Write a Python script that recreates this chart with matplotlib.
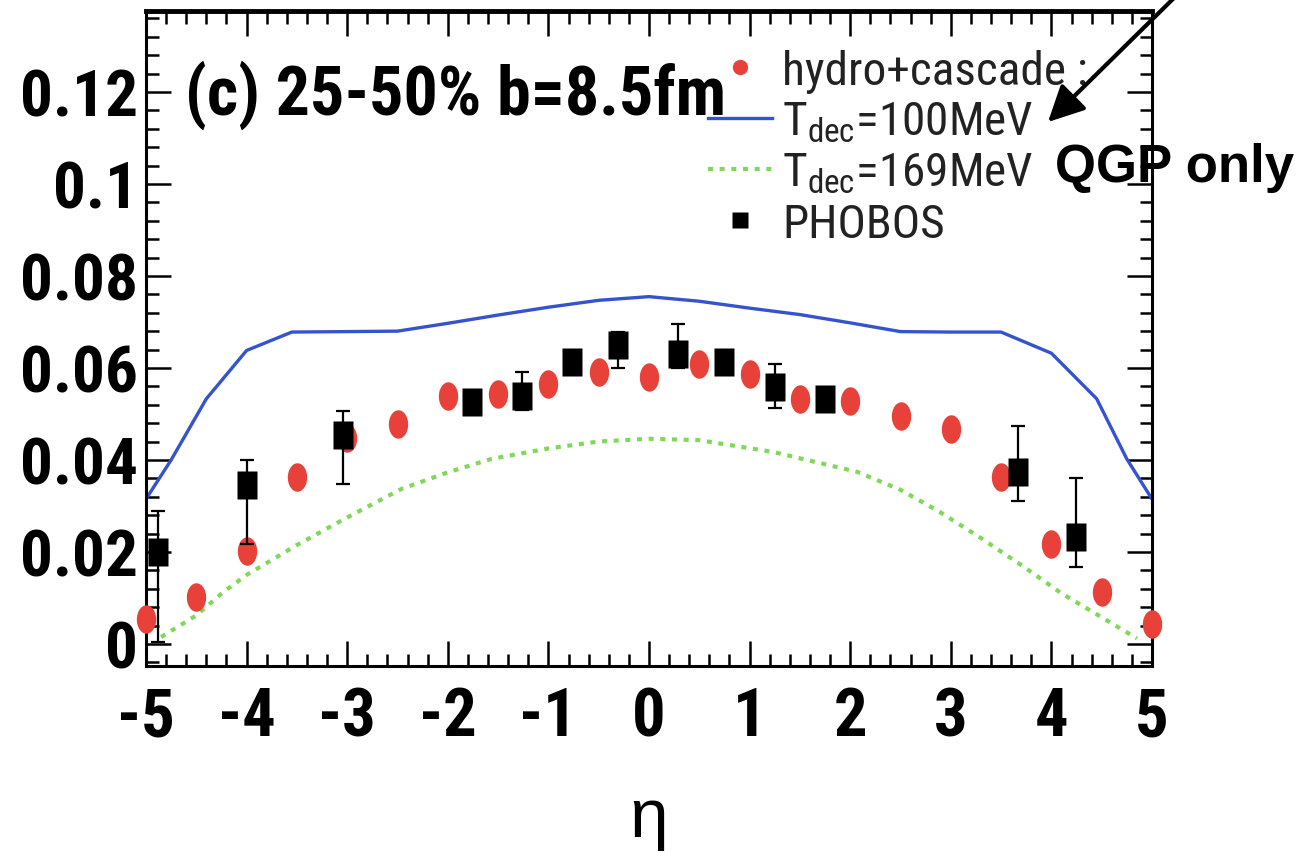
import numpy as np
import matplotlib
matplotlib.use('Agg')
import matplotlib.pyplot as plt
from matplotlib.lines import Line2D
from matplotlib.ticker import MultipleLocator

plt.rcParams['font.family'] = ['Liberation Sans Narrow', 'Roboto Condensed', 'DejaVu Sans']
plt.rcParams['axes.unicode_minus'] = False

# hydro+cascade, T_dec = 100 MeV (solid line)
eta_100 = [-5.0, -4.75, -4.4, -4.0, -3.55, -3.0, -2.5, -2.0, -1.5, -1.0, -0.5, 0.0,
           0.5, 1.0, 1.5, 2.0, 2.5, 3.0, 3.5, 4.0, 4.45, 4.75, 5.0]
v2_100 = [0.0315, 0.040, 0.0533, 0.0638, 0.0678, 0.0679, 0.0680, 0.0697, 0.0715, 0.0732, 0.0747, 0.0755,
          0.0745, 0.0730, 0.0716, 0.0698, 0.0679, 0.0678, 0.0678, 0.0632, 0.0533, 0.0402, 0.0315]

# QGP only, T_dec = 169 MeV (dotted line)
eta_169 = [-4.85, -4.5, -4.23, -4.0, -3.5, -3.0, -2.46, -2.0, -1.57, -1.0, -0.5, 0.0,
           0.5, 1.24, 2.07, 2.5, 2.89, 3.3, 3.71, 4.1, 4.53, 4.85]
v2_169 = [0.0015, 0.0062, 0.0113, 0.0150, 0.0215, 0.0275, 0.0337, 0.0373, 0.0402, 0.0425, 0.0440, 0.0446,
          0.0443, 0.0417, 0.0374, 0.0335, 0.0287, 0.0230, 0.0170, 0.0110, 0.0054, 0.0012]

# hydro+cascade points
eta_hc = np.arange(-5.0, 5.01, 0.5)
v2_hc = [0.0054, 0.0102, 0.0202, 0.0363, 0.0448, 0.0478, 0.0539, 0.0543, 0.0565, 0.0591, 0.0580,
         0.0609, 0.0587, 0.0533, 0.0528, 0.0496, 0.0467, 0.0363, 0.0217, 0.0113, 0.0043]

# PHOBOS data with asymmetric errors
eta_ph = [-4.88, -4.0, -3.04, -1.76, -1.26, -0.77, -0.31, 0.29, 0.75, 1.25, 1.75, 3.67, 4.24]
v2_ph = [0.0200, 0.0345, 0.0455, 0.0526, 0.0539, 0.0613, 0.0649, 0.0630, 0.0613, 0.0559, 0.0533, 0.0374, 0.0233]
err_lo = [0.0195, 0.0128, 0.0107, 0.002, 0.003, 0.002, 0.0049, 0.003, 0.002, 0.0046, 0.002, 0.0063, 0.0066]
err_hi = [0.0090, 0.0055, 0.0052, 0.002, 0.0052, 0.002, 0.003, 0.0066, 0.002, 0.0050, 0.002, 0.0100, 0.0128]

y_ticks = [0, 0.02, 0.04, 0.06, 0.08, 0.1, 0.12]
y_labels = ['0', '0.02', '0.04', '0.06', '0.08', '0.1', '0.12']
x_ticks = [-5, -4, -3, -2, -1, 0, 1, 2, 3, 4, 5]
x_labels = [str(t) for t in x_ticks]

c_blue = '#3553cc'
c_green = '#80d858'
c_red = '#e8413a'

# tall markers: ellipse and rectangle
t = np.linspace(0, 2 * np.pi, 48)
ell = list(zip(0.68 * np.cos(t), np.sin(t)))
rect = [(-0.68, -1), (0.68, -1), (0.68, 1), (-0.68, 1), (-0.68, -1)]

fig = plt.figure(figsize=(12.99, 8.54), dpi=100)
ax = fig.add_axes([146 / 1299, 187 / 854, 1006 / 1299, 655 / 854])

ax.plot(eta_100, v2_100, color=c_blue, lw=2.4, zorder=2)
ax.plot(eta_169, v2_169, color=c_green, lw=3, ls=(0, (1.2, 1.6)), zorder=2)
ax.plot(eta_hc, v2_hc, ls='none', marker=ell, ms=20.5, color=c_red, mec='none',
        clip_on=False, zorder=3)
ax.errorbar(eta_ph, v2_ph, yerr=[err_lo, err_hi], fmt='none', ecolor='k',
            elinewidth=1.6, capsize=5, capthick=1.6, zorder=4)
ax.plot(eta_ph, v2_ph, ls='none', marker=rect, ms=20.5, color='k', mec='none', zorder=5)

ax.set_xlim(-5, 5)
ax.set_ylim(-0.0048, 0.1376)
ax.set_xticks(x_ticks)
ax.set_xticklabels(x_labels, fontsize=48, fontweight='bold')
ax.set_yticks(y_ticks)
ax.set_yticklabels(y_labels, fontsize=47, fontweight='bold')
ax.xaxis.set_minor_locator(MultipleLocator(0.2))
ax.yaxis.set_minor_locator(MultipleLocator(0.004))
ax.tick_params(which='both', direction='in', top=True, right=True, width=1.8)
ax.tick_params(which='major', length=18)
ax.tick_params(which='minor', length=9)
ax.tick_params(axis='x', which='both', top=True, labeltop=False)
ax.tick_params(axis='x', pad=14)
ax.tick_params(axis='y', pad=6)
for s in ax.spines.values():
    s.set_linewidth(2.2)
ax.spines['top'].set_linewidth(3.5)

ax.set_xlabel('η', fontsize=50, family=['Liberation Sans', 'DejaVu Sans'])
ax.xaxis.set_label_coords(0.5, -0.232)
ax.xaxis.label.set_va('center')

ax.text(0.0388, 0.843, '(c) 25-50% b=8.5fm', transform=ax.transAxes,
        fontsize=49, fontweight='bold', va='baseline', ha='left')

handles = [
    Line2D([], [], ls='none', marker='o', ms=11, color=c_red, mec='none'),
    Line2D([], [], color=c_blue, lw=2.4),
    Line2D([], [], color=c_green, lw=3, ls=(0, (1.2, 1.6))),
    Line2D([], [], ls='none', marker='s', ms=11, color='k', mec='none'),
]
labels = ['hydro+cascade :', r'$\mathregular{T_{dec}}$=100MeV',
          r'$\mathregular{T_{dec}}$=169MeV', 'PHOBOS']
leg = ax.legend(handles, labels, loc='upper left', bbox_to_anchor=(708 / 1299, 1 - 50 / 854),
                bbox_transform=fig.transFigure, frameon=False, fontsize=34,
                handlelength=1.35, handletextpad=0.22, labelspacing=0.14,
                borderpad=0, borderaxespad=0)
for txt in leg.get_texts():
    txt.set_color('#222222')

# arrow pointing at the curve label
ax.annotate('', xy=(1048 / 1299, 1 - 123 / 854), xycoords='figure fraction',
            xytext=(1175 / 1299, 1 + 2 / 854), textcoords='figure fraction',
            arrowprops=dict(arrowstyle='-|>,head_length=1.1,head_width=0.55', color='k',
                            lw=3, mutation_scale=20, shrinkA=0, shrinkB=0),
            annotation_clip=False, zorder=10)
fig.text(1055 / 1299, 1 - 182 / 854, 'QGP only', fontsize=38, fontweight='bold',
         family=['Liberation Sans', 'DejaVu Sans'], va='baseline', ha='left')

fig.savefig('out.png', dpi=100)
